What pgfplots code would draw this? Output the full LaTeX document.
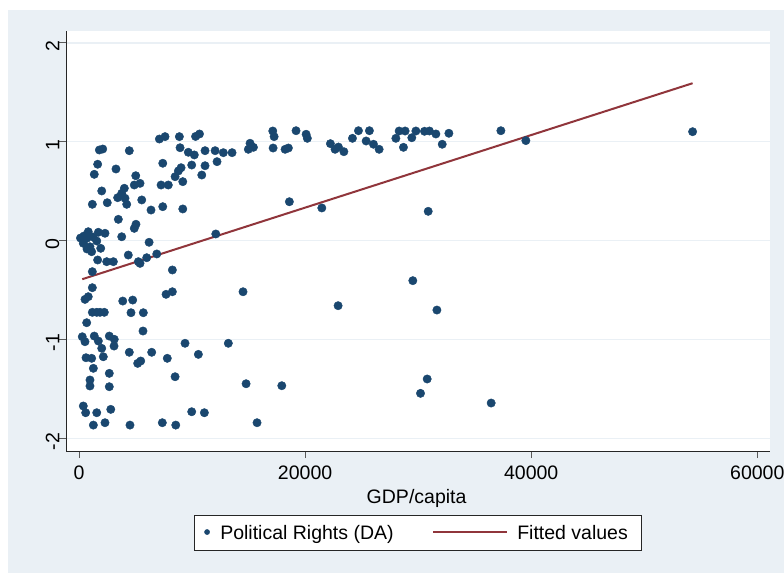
\documentclass[border=0pt]{standalone}
\usepackage{fontspec}
\setmainfont{Liberation Sans}
\usepackage{pgfplots}
\pgfplotsset{compat=1.18}
\definecolor{stnavy}{RGB}{26,71,111}
\definecolor{stmaroon}{RGB}{144,53,59}
\definecolor{stbg}{RGB}{234,240,245}
\definecolor{stgrid}{RGB}{234,240,245}
\newcommand{\fs}{\fontsize{19.5}{23}\selectfont}
\pgfplotsset{
  scatlegend/.style={legend image code/.code={\path[draw=none,fill=none] (-12.9pt,0pt) -- (13.2pt,0pt); \draw[##1, mark size=2.6pt] plot coordinates {(0pt,7pt)};}},
  linelegend/.style={legend image code/.code={\path[draw=none,fill=none] (-39.6pt,0pt) -- (84pt,0pt); \draw[##1] (0pt,7pt) -- (74pt,7pt);}},
}
\begin{document}
\begin{tikzpicture}
\fill[white] (0pt,0pt) rectangle (784pt,573pt);
\fill[stbg] (8pt,0pt) rectangle (784pt,563pt);
\begin{axis}[
  at={(66pt,121.3pt)}, anchor=south west,
  scale only axis, width=704pt, height=420.7pt,
  xmin=-1150, xmax=61126, ymin=-2.133, ymax=2.120,
  axis lines=left, axis line style={-, black!85, line width=0.9pt},
  axis background/.style={fill=white},
  scaled x ticks=false, scaled y ticks=false,
  xtick={0,20000,40000,60000}, xticklabels={0,20000,40000,60000},
  ytick={-2,-1,0,1,2}, yticklabels={-2,-1,0,1,2},
  tick align=outside, major tick length=6.5pt,
  tick style={black!65, line width=0.9pt},
  ymajorgrids, grid style={stgrid, line width=1.3pt},
  xticklabel style={font=\fs, anchor=north, inner sep=0pt, yshift=-7pt},
  yticklabel style={font=\fs, rotate=90, anchor=south, inner sep=0pt, xshift=-3pt},
  xlabel={GDP/capita},
  xlabel style={font=\fs, at={(axis description cs:0.5,0)}, anchor=base, inner sep=0pt, yshift=-51.3pt, xshift=-1.4pt},
  legend columns=2,
  legend style={at={(axis description cs:0.5,0)}, anchor=north, yshift=-63.3pt,
    font=\fs, draw=black!85, line width=0.8pt, fill=white,
    inner xsep=0pt, inner ysep=9.5pt, column sep=0pt, row sep=0pt,
    nodes={inner sep=0pt, anchor=base}},
]
\addplot[stnavy, only marks, mark=*, mark size=4.2pt, mark options={fill=stnavy, draw=stnavy, line width=0.4pt}, scatlegend]
coordinates {
(37320,1.112) (39530,1.012) (54280,1.102) (36460,-1.641)
(10310,1.054) (10660,1.079) (12040,0.910) (12770,0.890) (13540,0.890)
(11150,0.910) (11150,0.758) (12210,0.799) (14980,0.924) (15130,0.985)
(15430,0.944) (17140,1.109) (17260,1.052) (17170,0.937) (18230,0.924)
(18520,0.937) (19200,1.112) (20090,1.076) (20200,1.035) (22240,0.981)
(22650,0.924) (22950,0.947) (23430,0.900) (24190,1.035) (24720,1.112)
(25690,1.112) (25400,1.008) (26050,0.975) (26550,0.924) (28030,1.035)
(28320,1.109) (28850,1.109) (28700,0.944) (29440,1.041) (29800,1.109)
(30560,1.106) (31000,1.109) (31570,1.079) (32130,0.975) (32720,1.086)
(18610,0.394) (21480,0.331) (12100,0.068) (30890,0.297) (29530,-0.404)
(14510,-0.516) (22920,-0.657) (31660,-0.701) (13210,-1.037) (10560,-1.149)
(14780,-1.446) (17940,-1.466) (30800,-1.398) (30210,-1.543) (9970,-1.729)
(11090,-1.739) (15750,-1.840)
(7110,1.028) (7610,1.052) (8880,1.052) (1800,0.917) (2100,0.927)
(4450,0.910) (8940,0.940) (9670,0.894) (10200,0.867) (1650,0.773)
(7410,0.783) (9970,0.765) (3270,0.725) (1350,0.671) (5020,0.657)
(8500,0.647) (8790,0.705) (9030,0.738) (9180,0.597) (10860,0.664)
(4890,0.563) (5400,0.580) (7260,0.563) (7900,0.563) (2010,0.503)
(4010,0.530) (3780,0.479) (3420,0.435) (4070,0.429) (5550,0.412)
(4220,0.368) (1180,0.368) (2500,0.384) (6370,0.310) (7410,0.344)
(9180,0.321) (3480,0.216) (5040,0.166) (4890,0.125) (3780,0.040)
(6200,-0.016) (820,0.091) (1710,0.085) (2300,0.075) (380,-0.026)
(680,0.024) (970,-0.061) (1120,-0.111) (1570,-0.003) (1920,-0.077)
(130,0.027) (440,0.048) (1240,0.037) (710,-0.084)
(1650,-0.195) (2450,-0.212) (3040,-0.212) (4360,-0.145) (5250,-0.212)
(5990,-0.172) (6880,-0.134) (5400,-0.229) (1180,-0.313) (8260,-0.296)
(1180,-0.475) (530,-0.593) (820,-0.566) (3870,-0.610) (4750,-0.600)
(7700,-0.542) (8260,-0.516) (1180,-0.724) (1570,-0.724) (1860,-0.724)
(2240,-0.724) (4600,-0.728) (5690,-0.728) (680,-0.829) (5660,-0.913)
(290,-0.971) (530,-1.021) (1350,-0.964) (1710,-1.014) (2680,-0.964)
(3120,-0.997) (3100,-1.065) (2010,-1.088) (9380,-1.037) (4450,-1.128)
(6430,-1.128) (5190,-1.240) (5460,-1.216) (620,-1.183) (1120,-1.189)
(2150,-1.173) (7810,-1.189) (1270,-1.290) (2680,-1.341) (8500,-1.375)
(970,-1.408) (970,-1.469) (2680,-1.476) (380,-1.671) (590,-1.739)
(1570,-1.739) (2810,-1.705) (1270,-1.864) (2300,-1.840) (4510,-1.864)
(7370,-1.840) (8560,-1.864)
};
\addlegendentry{Political Rights (DA)}
\addplot[stmaroon, line width=2pt, linelegend]
coordinates {(290,-0.389) (54280,1.592)};
\addlegendentry{Fitted values\hspace*{14pt}}
\end{axis}
\pgfresetboundingbox
\path (0pt,0pt) rectangle (784pt,573pt);
\end{tikzpicture}
\end{document}
